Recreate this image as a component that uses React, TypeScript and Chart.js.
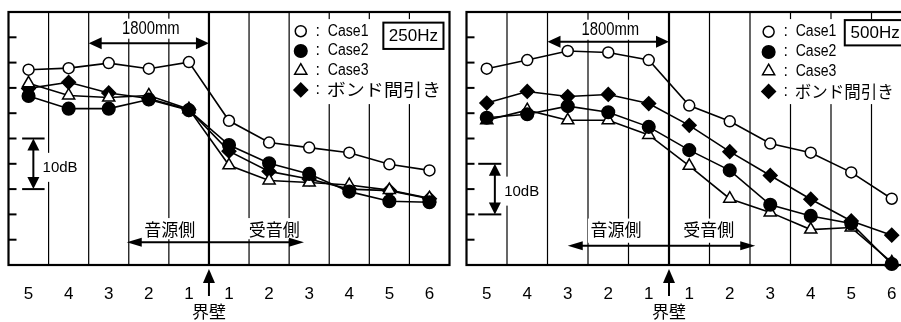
import React, { useEffect, useRef } from 'react';
import { Chart, registerables } from 'chart.js';

Chart.register(...registerables);

const LATIN = '"Liberation Sans", Arial, "DejaVu Sans", sans-serif';
const JP = '"Noto Sans CJK JP", "Noto Sans CJK SC", sans-serif';

// Measurement positions: 5..1 on the source side, 1..6 on the receiving side
const positions = ['5', '4', '3', '2', '1', '1', '2', '3', '4', '5', '6'];
const sourceCount = 5;
const seriesNames = ['Case1', 'Case2', 'Case3', 'ボンド間引き'];

// Relative level (dB, 5 dB per grid step) — 250 Hz
const case1_250 = [38.6, 38.9, 39.9, 38.8, 40.1, 28.5, 24.2, 23.2, 22.2, 19.9, 18.7];
const case2_250 = [33.4, 30.9, 30.9, 32.7, 30.6, 23.7, 20.1, 18.0, 14.5, 12.6, 12.4];
const case3_250 = [35.9, 33.5, 33.1, 33.5, 30.8, 19.7, 16.7, 16.3, 15.8, 14.8, 13.2];
const bond_250 = [34.9, 36.1, 34.0, 32.9, 30.7, 22.5, 18.5, 17.0, 15.0, 14.7, 13.1];

// Relative level (dB) — 500 Hz
const case1_500 = [38.8, 40.5, 42.3, 42.0, 40.5, 31.5, 28.4, 24.0, 22.2, 18.3, 13.1];
const case2_500 = [29.1, 29.8, 31.4, 30.2, 27.3, 22.7, 18.7, 11.9, 9.7, 8.2, 0.2];
const case3_500 = [28.6, 30.6, 28.6, 28.6, 25.7, 19.6, 13.1, 10.4, 7.0, 7.4, 0.5];
const bond_500 = [32.0, 34.3, 33.3, 33.7, 31.9, 27.6, 22.4, 17.7, 13.0, 8.7, 5.9];

type PointShape = 'circle' | 'triangle' | 'rectRot';
type MarkerStyle = { pointStyle: PointShape; radius: number; fill: string };

const markers: MarkerStyle[] = [
  { pointStyle: 'circle', radius: 5.5, fill: '#ffffff' },
  { pointStyle: 'circle', radius: 6.3, fill: '#000000' },
  { pointStyle: 'triangle', radius: 7, fill: '#ffffff' },
  { pointStyle: 'rectRot', radius: 6.8, fill: '#000000' },
];

type PanelLayout = {
  freqBox: { x0: number; x1: number; top: number; bottom: number };
  legend: { box: number; marker: number; top: number; bottom: number; rows: number[]; jpSize: number; jpStretch: number };
  span: { x0: number; x1: number; y: number; textX: number; textY: number };
  sides: { x0: number; x1: number; y: number; srcX: number; rcvX: number; textY: number };
  bracket: { x0: number; x1: number; arrowX: number; lo: number; hi: number; textX: number; textY: number };
};

const layout250: PanelLayout = {
  freqBox: { x0: 8.85, x1: 10.35, top: 47.9, bottom: 42.7 },
  legend: { box: 6.59, marker: 6.79, top: 48.6, bottom: 31.8, rows: [46.2, 42.3, 38.4, 34.6], jpSize: 17, jpStretch: 1.12 },
  span: { x0: 1.5, x1: 4.5, y: 43.8, textX: 3.05, textY: 46.7 },
  sides: { x0: 2.45, x1: 6.87, y: 4.5, srcX: 3.52, rcvX: 6.13, textY: 7.1 },
  bracket: { x0: -0.16, x1: 0.4, arrowX: 0.12, lo: 15, hi: 25, textX: 0.35, textY: 19.2 },
};

const layout500: PanelLayout = {
  freqBox: { x0: 8.84, x1: 10.34, top: 48.4, bottom: 43.4 },
  legend: { box: 6.68, marker: 6.96, top: 48.6, bottom: 31.8, rows: [46.1, 42.1, 38.3, 34.3], jpSize: 16.5, jpStretch: 1 },
  span: { x0: 1.5, x1: 4.5, y: 44.1, textX: 3.05, textY: 46.5 },
  sides: { x0: 2.0, x1: 6.63, y: 3.8, srcX: 3.19, rcvX: 5.48, textY: 7.0 },
  bracket: { x0: -0.21, x1: 0.36, arrowX: 0.2, lo: 10, hi: 20, textX: 0.43, textY: 14.5 },
};

function drawMarker(ctx: CanvasRenderingContext2D, m: MarkerStyle, x: number, y: number) {
  const r = m.radius;
  ctx.save();
  ctx.beginPath();
  if (m.pointStyle === 'circle') {
    ctx.arc(x, y, r, 0, Math.PI * 2);
  } else if (m.pointStyle === 'triangle') {
    for (let k = 0; k < 3; k++) {
      const a = (k * 2 * Math.PI) / 3;
      const px = x + Math.sin(a) * r;
      const py = y - Math.cos(a) * r;
      if (k === 0) ctx.moveTo(px, py);
      else ctx.lineTo(px, py);
    }
  } else {
    ctx.moveTo(x - r, y);
    ctx.lineTo(x, y - r);
    ctx.lineTo(x + r, y);
    ctx.lineTo(x, y + r);
  }
  ctx.closePath();
  ctx.fillStyle = m.fill;
  ctx.fill();
  ctx.lineWidth = 1.5;
  ctx.strokeStyle = '#000';
  ctx.stroke();
  ctx.restore();
}

function drawText(
  ctx: CanvasRenderingContext2D,
  s: string,
  x: number,
  y: number,
  font: string,
  align: CanvasTextAlign = 'center',
  sx = 1
) {
  ctx.save();
  ctx.font = font;
  ctx.fillStyle = '#000';
  ctx.textAlign = align;
  ctx.textBaseline = 'middle';
  ctx.translate(x, y);
  ctx.scale(sx, 1);
  ctx.fillText(s, 0, 0);
  ctx.restore();
}

function hArrow(ctx: CanvasRenderingContext2D, x0: number, x1: number, y: number, head: number, half: number, lw: number) {
  ctx.save();
  ctx.strokeStyle = '#000';
  ctx.fillStyle = '#000';
  ctx.lineWidth = lw;
  ctx.beginPath();
  ctx.moveTo(x0 + head - 1, y);
  ctx.lineTo(x1 - head + 1, y);
  ctx.stroke();
  ctx.beginPath();
  ctx.moveTo(x0, y);
  ctx.lineTo(x0 + head, y - half);
  ctx.lineTo(x0 + head, y + half);
  ctx.closePath();
  ctx.fill();
  ctx.beginPath();
  ctx.moveTo(x1, y);
  ctx.lineTo(x1 - head, y - half);
  ctx.lineTo(x1 - head, y + half);
  ctx.closePath();
  ctx.fill();
  ctx.restore();
}

function vArrow(ctx: CanvasRenderingContext2D, x: number, y0: number, y1: number, head: number, half: number, lw: number, both: boolean) {
  ctx.save();
  ctx.strokeStyle = '#000';
  ctx.fillStyle = '#000';
  ctx.lineWidth = lw;
  ctx.beginPath();
  ctx.moveTo(x, y0 + head - 1);
  ctx.lineTo(x, both ? y1 - head + 1 : y1);
  ctx.stroke();
  ctx.beginPath();
  ctx.moveTo(x, y0);
  ctx.lineTo(x - half, y0 + head);
  ctx.lineTo(x + half, y0 + head);
  ctx.closePath();
  ctx.fill();
  if (both) {
    ctx.beginPath();
    ctx.moveTo(x, y1);
    ctx.lineTo(x - half, y1 - head);
    ctx.lineTo(x + half, y1 - head);
    ctx.closePath();
    ctx.fill();
  }
  ctx.restore();
}

function whiteBox(ctx: CanvasRenderingContext2D, x0: number, y0: number, x1: number, y1: number) {
  ctx.save();
  ctx.fillStyle = '#ffffff';
  ctx.fillRect(x0, y0, x1 - x0, y1 - y0);
  ctx.restore();
}

function panelDecor(freq: string, L: PanelLayout) {
  return {
    id: 'panelDecor',
    beforeDatasetsDraw(chart: any) {
      const { ctx, chartArea: a, scales } = chart;
      const X = (v: number) => scales.x.getPixelForValue(v);
      const Y = (v: number) => scales.y.getPixelForValue(v);
      const wall = sourceCount - 0.5;

      ctx.save();
      // vertical grid at column boundaries, heavier at the partition wall
      for (let k = 0; k < positions.length - 1; k++) {
        const gx = X(k + 0.5);
        ctx.beginPath();
        ctx.lineWidth = k + 0.5 === wall ? 2.2 : 1.2;
        ctx.strokeStyle = '#000';
        ctx.moveTo(gx, a.top);
        ctx.lineTo(gx, a.bottom);
        ctx.stroke();
      }

      // white backgrounds for annotations
      const sp = L.span;
      whiteBox(ctx, X(sp.textX) - 33, Y(sp.textY) - 10, X(sp.textX) + 33, Y(sp.textY) + 10);
      const sd = L.sides;
      whiteBox(ctx, X(sd.srcX) - 28, Y(sd.textY) - 11, X(sd.srcX) + 28, Y(sd.y) - 3);
      whiteBox(ctx, X(sd.rcvX) - 28, Y(sd.textY) - 11, X(sd.rcvX) + 28, Y(sd.y) - 3);
      const br = L.bracket;
      whiteBox(ctx, X(br.textX) - 2, Y(br.textY) - 15, X(br.textX) + 40, Y(br.textY) + 14);
      const lg = L.legend;
      whiteBox(ctx, X(lg.box), Y(lg.top), a.right, Y(lg.bottom));

      // frame
      ctx.lineWidth = 2.2;
      ctx.strokeStyle = '#000';
      ctx.strokeRect(a.left, a.top, a.right - a.left, a.bottom - a.top);

      // inward ticks on the level axis
      ctx.lineWidth = 2;
      for (let v = 5; v < 50; v += 5) {
        ctx.beginPath();
        ctx.moveTo(a.left, Y(v));
        ctx.lineTo(a.left + 8, Y(v));
        ctx.stroke();
      }

      // 1800mm span
      hArrow(ctx, X(sp.x0), X(sp.x1), Y(sp.y), 13, 6, 2);
      drawText(ctx, '1800mm', X(sp.textX), Y(sp.textY), `19px ${LATIN}`, 'center', 0.78);

      // source side / receiving side
      hArrow(ctx, X(sd.x0), X(sd.x1), Y(sd.y), 15, 4.5, 1.8);
      drawText(ctx, '音源側', X(sd.srcX), Y(sd.textY), `17px ${JP}`);
      drawText(ctx, '受音側', X(sd.rcvX), Y(sd.textY), `17px ${JP}`);

      // 10 dB scale bracket
      ctx.lineWidth = 2;
      for (const v of [br.lo, br.hi]) {
        ctx.beginPath();
        ctx.moveTo(X(br.x0), Y(v));
        ctx.lineTo(X(br.x1), Y(v));
        ctx.stroke();
      }
      vArrow(ctx, X(br.arrowX), Y(br.hi), Y(br.lo), 12, 6, 2, true);
      drawText(ctx, '10dB', X(br.textX), Y(br.textY), `15px ${LATIN}`, 'left');

      // frequency box
      const fb = L.freqBox;
      whiteBox(ctx, X(fb.x0), Y(fb.top), X(fb.x1), Y(fb.bottom));
      ctx.lineWidth = 2;
      ctx.strokeRect(X(fb.x0), Y(fb.top), X(fb.x1) - X(fb.x0), Y(fb.bottom) - Y(fb.top));
      drawText(ctx, freq, (X(fb.x0) + X(fb.x1)) / 2, (Y(fb.top) + Y(fb.bottom)) / 2 + 1, `17px ${LATIN}`);

      // legend
      seriesNames.forEach((name, i) => {
        const mx = X(lg.marker);
        const my = Y(lg.rows[i]);
        drawMarker(ctx, markers[i], mx, my);
        drawText(ctx, ':', mx + 17, my, `16px ${LATIN}`);
        if (/^[\x00-\x7f]+$/.test(name)) {
          drawText(ctx, name, mx + 27, my, `16px ${LATIN}`, 'left', 0.88);
        } else {
          drawText(ctx, name, mx + 26, my, `${lg.jpSize}px ${JP}`, 'left', lg.jpStretch);
        }
      });

      // position labels and partition wall
      positions.forEach((p, i) => {
        drawText(ctx, p, X(i), 294, `17px ${LATIN}`);
      });
      vArrow(ctx, X(wall), 269, 296, 14, 6, 2, false);
      drawText(ctx, '界壁', X(wall), 312, `17px ${JP}`);
      ctx.restore();
    },
  };
}

function Panel(props: { freq: string; series: number[][]; layout: PanelLayout; left: number; width: number; pad: { left: number; right: number } }) {
  const ref = useRef<HTMLCanvasElement>(null);
  useEffect(() => {
    const canvas = ref.current;
    if (!canvas) return;
    const chart = new Chart(canvas, {
      type: 'line',
      data: {
        labels: positions,
        datasets: props.series.map((vals, i) => ({
          label: seriesNames[i],
          data: vals,
          borderColor: '#000000',
          borderWidth: 1.6,
          pointStyle: markers[i].pointStyle,
          pointRadius: markers[i].radius,
          pointHoverRadius: markers[i].radius,
          pointBackgroundColor: markers[i].fill,
          pointBorderColor: '#000000',
          pointBorderWidth: 1.5,
          tension: 0,
          fill: false,
          clip: false,
        })),
      },
      options: {
        responsive: false,
        animation: false,
        devicePixelRatio: 1,
        events: [],
        layout: { padding: { left: props.pad.left, right: props.pad.right, top: 12, bottom: 57 } },
        plugins: { legend: { display: false }, tooltip: { enabled: false } },
        scales: {
          x: { type: 'category', offset: true, display: false },
          y: { type: 'linear', min: 0, max: 50, display: false },
        },
      },
      plugins: [panelDecor(props.freq, props.layout)],
    } as any);
    return () => chart.destroy();
  }, []);
  return (
    <canvas
      ref={ref}
      width={props.width}
      height={322}
      style={{ position: 'absolute', left: props.left, top: 0, width: props.width, height: 322 }}
    />
  );
}

export default function App() {
  return (
    <div style={{ position: 'fixed', left: 0, top: 0, width: 901, height: 322, overflow: 'hidden', background: '#ffffff' }}>
      <Panel
        freq="250Hz"
        series={[case1_250, case2_250, case3_250, bond_250]}
        layout={layout250}
        left={0}
        width={458}
        pad={{ left: 8, right: 2 }}
      />
      <Panel
        freq="500Hz"
        series={[case1_500, case2_500, case3_500, bond_500]}
        layout={layout500}
        left={458}
        width={470}
        pad={{ left: 7, right: 16 }}
      />
    </div>
  );
}
